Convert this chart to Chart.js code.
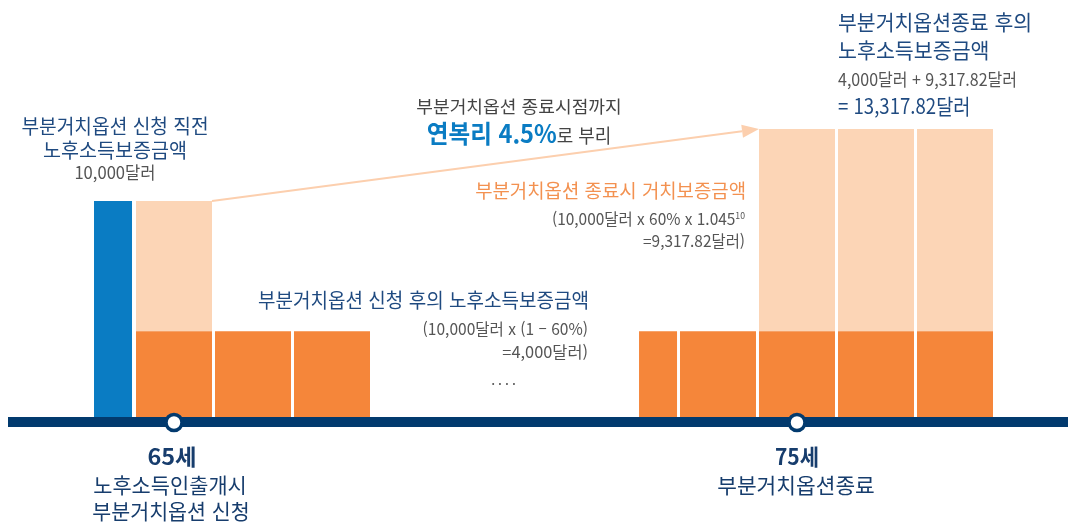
<!DOCTYPE html>
<html lang="ko">
<head>
<meta charset="utf-8">
<script src="https://cdn.jsdelivr.net/npm/chart.js@4"></script>
<style>
html,body{margin:0;padding:0;background:#fff;}
#wrap{position:relative;width:1076px;height:524px;overflow:hidden;font-family:"Noto Sans CJK KR","Noto Sans",sans-serif;}
#wrap canvas{position:absolute;left:0;top:0;}
.t{position:absolute;white-space:nowrap;line-height:1.2;transform:translateY(-50%);transform-origin:left center;}
.c{transform:translate(-50%,-50%);text-align:center;transform-origin:center center;}
.r{transform:translate(-100%,-50%);text-align:right;transform-origin:right center;}
.navy{color:#1f4a80;}
.dnavy{color:#173d6d;}
.gray{color:#555;}
</style>
</head>
<body>
<div id="wrap">
  <canvas id="chart" width="1076" height="524"></canvas>

  <div class="t c navy" data-w="187" style="left:115px;top:126px;font-size:20px;">부분거치옵션 신청 직전</div>
  <div class="t c navy" data-w="144" style="left:115px;top:150px;font-size:20px;">노후소득보증금액</div>
  <div class="t c gray" data-w="81" style="left:115px;top:172px;font-size:17px;">10,000달러</div>

  <div class="t c" data-w="205" style="left:519px;top:106px;font-size:17px;color:#444;">부분거치옵션 종료시점까지</div>
  <div class="t c" data-w="185" style="left:519px;top:132px;"><span style="font-size:25px;font-weight:700;color:#0a7cc3;">연복리 4.5%</span><span style="font-size:19px;color:#444;">로 부리</span></div>

  <div class="t r" data-w="271" style="left:746px;top:190px;font-size:19px;color:#f39150;">부분거치옵션 종료시 거치보증금액</div>
  <div class="t r gray" data-w="193" style="left:745px;top:219px;font-size:16px;">(10,000달러 x 60% x 1.045<span style="font-size:9px;vertical-align:6px;">10</span></div>
  <div class="t r gray" data-w="102" style="left:745px;top:241px;font-size:16px;">=9,317.82달러)</div>

  <div class="t r navy" data-w="331" style="left:589px;top:300px;font-size:20px;">부분거치옵션 신청 후의 노후소득보증금액</div>
  <div class="t r gray" data-w="165" style="left:588px;top:329px;font-size:16px;">(10,000달러 x (1 – 60%)</div>
  <div class="t r gray" data-w="86" style="left:588px;top:352px;font-size:16px;">=4,000달러)</div>
  <div class="t c gray" style="left:505px;top:379px;font-size:14px;letter-spacing:3px;">....</div>

  <div class="t navy" data-w="194" style="left:838px;top:22px;font-size:21px;">부분거치옵션종료 후의</div>
  <div class="t navy" data-w="152" style="left:838px;top:50px;font-size:21px;">노후소득보증금액</div>
  <div class="t gray" data-w="179" style="left:838px;top:79px;font-size:17px;">4,000달러 + 9,317.82달러</div>
  <div class="t navy" data-w="132" style="left:838px;top:106px;font-size:21px;">= 13,317.82달러</div>

  <div class="t c dnavy" data-w="49" style="left:172px;top:455px;font-size:22px;font-weight:700;">65세</div>
  <div class="t c dnavy" data-w="154" style="left:170px;top:485px;font-size:21px;">노후소득인출개시</div>
  <div class="t c dnavy" data-w="157" style="left:171px;top:511px;font-size:21px;">부분거치옵션 신청</div>
  <div class="t c dnavy" data-w="44" style="left:797px;top:455px;font-size:22px;font-weight:700;">75세</div>
  <div class="t c dnavy" data-w="158" style="left:796px;top:485px;font-size:21px;">부분거치옵션종료</div>
</div>

<script>
// ---- data ----
const periods = ['신청 직전', '65세', '66세', '67세', '73세', '74세', '75세', '76세', '77세'];
const incomeValues = [10000, 4000, 4000, 4000, 4000, 4000, 4000, 4000, 4000];      // 노후소득보증금액 (지급분)
const deferredValues = [0, 6000, 0, 0, 0, 0, 9317.82, 9317.82, 9317.82];          // 거치보증금액
const markerPeriods = ['65세', '75세'];

// ---- layout (not data) ----
const slotPos = [-0.772, 0, 1, 2, 6.127, 6.886, 7.886, 8.886, 9.886];
const halfWidth = [true, false, false, false, true, false, false, false, false];
const C = {
  blue: '#0a7cc3', dark: '#f5863a', light: '#fcd5b6', navy: '#023a6e', arrow: '#fccfae'
};

const pt = (i, v) => ({ x: slotPos[i], y: v });
const idx = periods.map((_, i) => i);

const datasets = [
  { label: '신청 직전 노후소득보증금액', data: [pt(0, incomeValues[0])], backgroundColor: C.blue, barThickness: 38 },
  { label: '노후소득보증금액 (부분)', data: idx.filter(i => i > 0 && halfWidth[i]).map(i => pt(i, incomeValues[i])), backgroundColor: C.dark, barThickness: 38 },
  { label: '노후소득보증금액', data: idx.filter(i => i > 0 && !halfWidth[i]).map(i => pt(i, incomeValues[i])), backgroundColor: C.dark, barThickness: 76 },
  { label: '거치보증금액', data: idx.filter(i => deferredValues[i] > 0).map(i => pt(i, deferredValues[i])), backgroundColor: C.light, barThickness: 76 }
].map(d => Object.assign(d, { stack: 's', borderWidth: 0, inflateAmount: 0 }));

const decor = {
  id: 'decor',
  afterDatasetsDraw(chart) {
    const { ctx, chartArea, scales: { x, y } } = chart;
    const iStart = deferredValues.findIndex(v => v > 0);
    const iEnd = periods.indexOf(markerPeriods[1]);
    // arrow
    const x0 = x.getPixelForValue(slotPos[iStart]) + 38;
    const y0 = y.getPixelForValue(incomeValues[iStart] + deferredValues[iStart]);
    const x1 = x.getPixelForValue(slotPos[iEnd]) - 38;
    const y1 = y.getPixelForValue(incomeValues[iEnd] + deferredValues[iEnd]);
    const ang = Math.atan2(y1 - y0, x1 - x0);
    const hl = 17, hw = 6.5;
    const bx = x1 - hl * Math.cos(ang), by = y1 - hl * Math.sin(ang);
    ctx.save();
    ctx.strokeStyle = C.arrow; ctx.fillStyle = C.arrow; ctx.lineWidth = 2;
    ctx.beginPath(); ctx.moveTo(x0, y0); ctx.lineTo(bx, by); ctx.stroke();
    ctx.beginPath();
    ctx.moveTo(x1, y1);
    ctx.lineTo(bx + hw * Math.sin(ang), by - hw * Math.cos(ang));
    ctx.lineTo(bx - hw * Math.sin(ang), by + hw * Math.cos(ang));
    ctx.closePath(); ctx.fill();
    // timeline
    const base = chartArea.bottom;
    ctx.fillStyle = C.navy;
    ctx.fillRect(8, base - 1, chart.width - 16, 10);
    // markers
    markerPeriods.forEach(p => {
      const px = x.getPixelForValue(slotPos[periods.indexOf(p)]);
      ctx.beginPath(); ctx.arc(px, base + 4.5, 8, 0, Math.PI * 2);
      ctx.fillStyle = '#fff'; ctx.fill();
      ctx.lineWidth = 3.5; ctx.strokeStyle = C.navy; ctx.stroke();
    });
    ctx.restore();
  }
};

new Chart(document.getElementById('chart'), {
  type: 'bar',
  data: { datasets },
  options: {
    responsive: false,
    animation: false,
    layout: { padding: { left: 0, right: 0, top: 0, bottom: 106 } },
    plugins: { legend: { display: false }, tooltip: { enabled: false } },
    scales: {
      x: { type: 'linear', display: false, stacked: true, offset: false, min: -2.2025, max: 11.4177 },
      y: { display: false, stacked: true, min: 0, max: 19260 }
    }
  },
  plugins: [decor]
});

// fit the condensed look of the original lettering
function fitText() {
  document.querySelectorAll('.t[data-w]').forEach(el => {
    const nat = el.offsetWidth;
    const k = (+el.dataset.w) / nat;
    const base = el.classList.contains('c') ? 'translate(-50%,-50%)'
               : el.classList.contains('r') ? 'translate(-100%,-50%)' : 'translateY(-50%)';
    el.style.transform = base + ' scaleX(' + k.toFixed(4) + ')';
  });
}
fitText();
if (document.fonts && document.fonts.ready) document.fonts.ready.then(fitText);
</script>
</body>
</html>
